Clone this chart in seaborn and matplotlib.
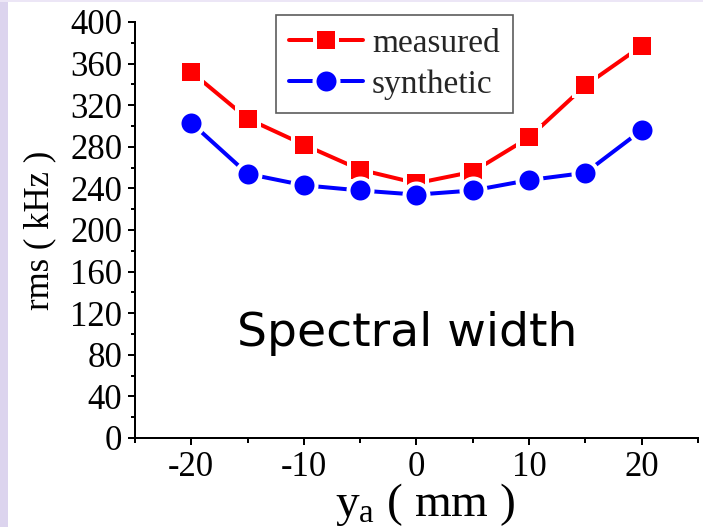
import matplotlib
matplotlib.use("Agg")
import matplotlib.pyplot as plt
import seaborn as sns
import pandas as pd
from matplotlib.patches import Rectangle
from matplotlib.lines import Line2D

positions = [-20, -15, -10, -5, 0, 5, 10, 15, 20]
measured = [352, 307, 282, 258, 245, 256, 289, 339, 377]
synthetic = [303, 254, 243, 238, 234, 238, 248, 255, 296]
series_names = ["measured", "synthetic"]
x_ticks = [-20, -10, 0, 10, 20]
y_ticks = list(range(0, 401, 40))

df = pd.DataFrame({
    "ya": positions * 2,
    "rms": measured + synthetic,
    "series": [series_names[0]] * len(positions) + [series_names[1]] * len(positions),
})

sns.set_theme(style="ticks")
plt.rcParams["font.family"] = ["Liberation Serif", "DejaVu Serif"]
plt.rcParams["mathtext.fontset"] = "custom"
plt.rcParams["mathtext.rm"] = "Liberation Serif"
plt.rcParams["mathtext.it"] = "Liberation Serif"
plt.rcParams["axes.unicode_minus"] = False

fig = plt.figure(figsize=(7.03, 5.27), dpi=100)
ax = fig.add_axes([135/703, 1-438/527, 563/703, 416/527])

px = 72/100
sns.lineplot(data=df, x="ya", y="rms", hue="series", style="series",
             palette={"measured": "#ff0000", "synthetic": "#0000ff"},
             markers={"measured": "s", "synthetic": "o"}, dashes=False,
             linewidth=4*px, markersize=22*px, markeredgecolor="white",
             markeredgewidth=4*px, ax=ax, legend=False)

for line in ax.lines:
    if line.get_marker() == "o":
        line.set_markersize(24*px)

ax.set_xlim(-25, 25)
ax.set_ylim(0, 400)
ax.set_xticks(x_ticks)
ax.set_xticks([-25, -15, -5, 5, 15, 25], minor=True)
ax.set_yticks(y_ticks)
ax.set_yticks(list(range(20, 400, 40)), minor=True)
ax.tick_params(axis="both", which="major", direction="out", length=7*px, width=2*px,
               labelsize=25, pad=4, color="black", labelcolor="black")
ax.tick_params(axis="both", which="minor", direction="out", length=4.5*px, width=2*px, color="black")
sns.despine(ax=ax)
for s in ["left", "bottom"]:
    ax.spines[s].set_linewidth(2*px)
    ax.spines[s].set_color("black")

ax.set_xlabel(r"$\mathregular{y_{a}}$ ( mm )", fontsize=34, color="black")
ax.xaxis.set_label_coords(0.515, -0.104)
ax.set_ylabel("rms ( kHz )", fontsize=25, labelpad=10, color="black")

ax.text(0.483, 0.25, "Spectral width", transform=ax.transAxes, ha="center", va="center",
        fontsize=34, family="DejaVu Sans", color="black")

handles = []
for line in ax.lines[:2]:
    h = Line2D([], [], color=line.get_color(), marker=line.get_marker(),
               markersize=line.get_markersize(), markeredgecolor="white",
               markeredgewidth=4*px, linewidth=4*px)
    handles.append(h)
leg = fig.legend(handles, series_names, loc="upper left",
                 bbox_to_anchor=(276/703, 1-15/527), fontsize=24,
                 frameon=True, fancybox=False, edgecolor="#333333",
                 handlelength=2.2, handletextpad=0.28, borderpad=0.4,
                 labelspacing=0.32, borderaxespad=0)
leg.get_frame().set_linewidth(1.2)

fig.patches.append(Rectangle((0, 0), 8/703, 1, transform=fig.transFigure,
                             facecolor="#dcd4ee", edgecolor="none", zorder=0))
fig.patches.append(Rectangle((0, 1-2/527), 1, 2/527, transform=fig.transFigure,
                             facecolor="#ece6f6", edgecolor="none", zorder=0))

fig.savefig("out.png", dpi=100)
